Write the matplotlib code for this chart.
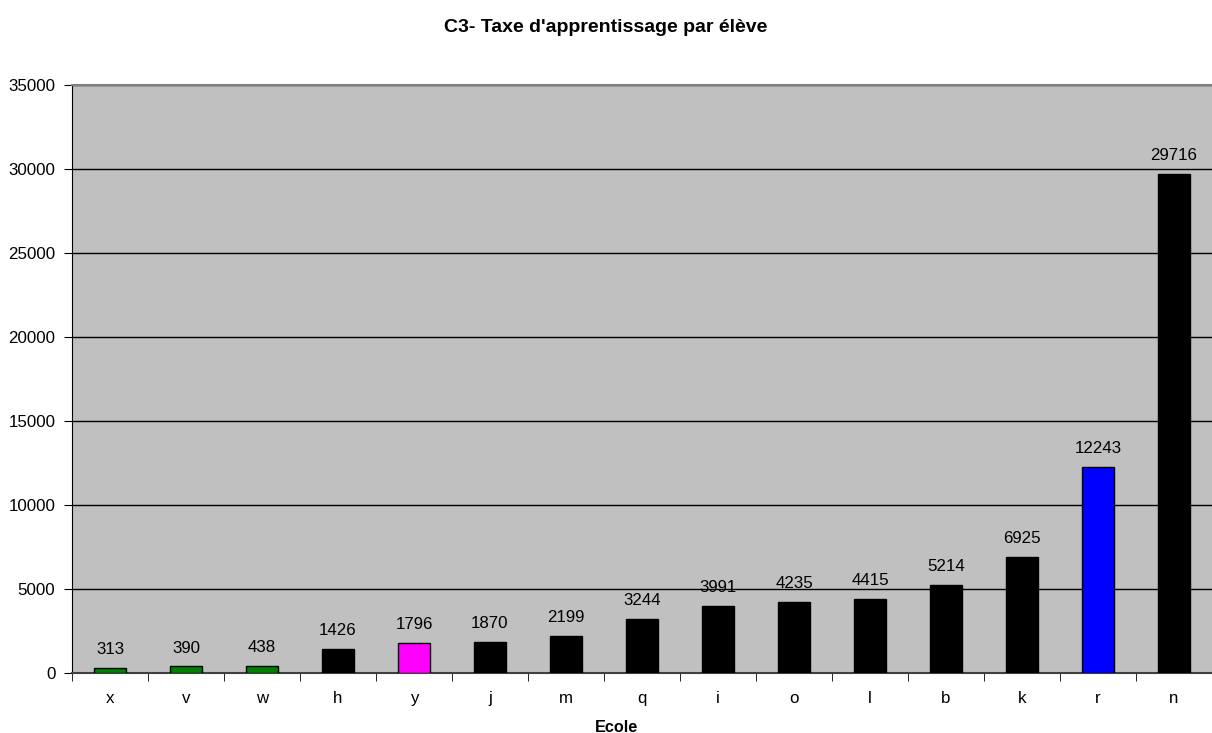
import matplotlib
matplotlib.use('Agg')
import matplotlib.pyplot as plt
import numpy as np

# Data
schools = ['x', 'v', 'w', 'h', 'y', 'j', 'm', 'q', 'i', 'o', 'l', 'b', 'k', 'r', 'n']
taxe = [313, 390, 438, 1426, 1796, 1870, 2199, 3244, 3991, 4235, 4415, 5214, 6925, 12243, 29716]
colors = ['#008000', '#008000', '#008000', '#000000', '#FF00FF', '#000000', '#000000', '#000000',
          '#000000', '#000000', '#000000', '#000000', '#000000', '#0000FF', '#000000']

plt.rcParams['font.family'] = ['Liberation Sans', 'DejaVu Sans']

fig = plt.figure(figsize=(12.12, 7.33), dpi=100)
ax = fig.add_axes([72 / 1212, 60 / 733, 1 - 72 / 1212, (673 - 85) / 733])
ax.set_facecolor('#C0C0C0')

x = np.arange(len(schools))
ax.bar(x, taxe, width=0.42, color=colors, edgecolor='black', linewidth=1, zorder=3)

for xi, v in zip(x, taxe):
    ax.text(xi, v + 650, str(v), ha='center', va='bottom', fontsize=12.2, zorder=4)

ax.set_xlim(-0.5, len(schools) - 0.5)
ax.set_ylim(0, 35000)
ax.set_yticks(np.arange(0, 35001, 5000))
ax.tick_params(axis='y', labelsize=12.2, length=6, direction='out', pad=6)

ax.set_xticks(x)
ax.set_xticklabels(schools, fontsize=12.2)
ax.tick_params(axis='x', which='major', length=0, pad=13)
ax.set_xticks(np.arange(-0.5, len(schools), 1), minor=True)
ax.tick_params(axis='x', which='minor', length=6, direction='out')

ax.grid(axis='y', color='black', linewidth=1, zorder=1)
ax.set_axisbelow(True)

ax.spines['top'].set_color('#808080')
ax.spines['top'].set_linewidth(1.5)
ax.spines['right'].set_visible(False)
ax.spines['left'].set_color('black')
ax.spines['bottom'].set_color('#404040')
ax.spines['bottom'].set_linewidth(1.5)

fig.text(606 / 1212, 1 - 28 / 733, "C3- Taxe d'apprentissage par élève", ha='center', va='center',
         fontsize=14, fontweight='bold')
fig.text(617 / 1212, 1 - 727 / 733, 'Ecole', ha='center', va='center',
         fontsize=11.7, fontweight='bold')

fig.savefig('out.png', dpi=100)
